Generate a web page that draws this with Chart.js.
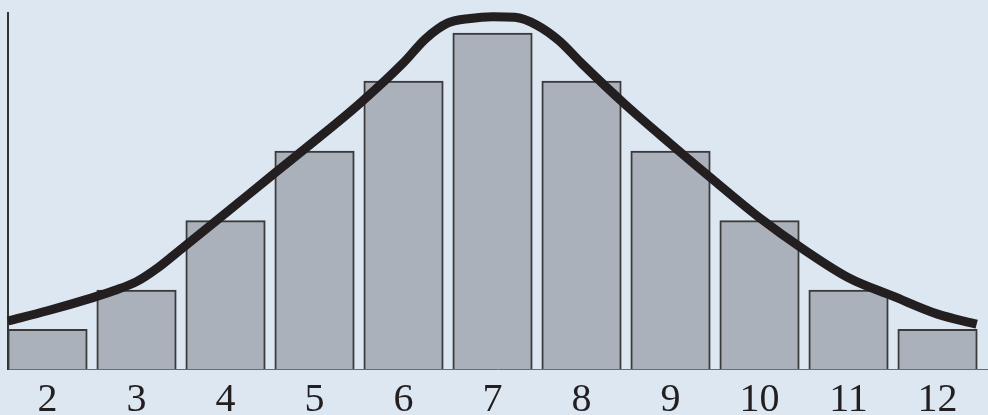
<!DOCTYPE html>
<html>
<head>
<meta charset="utf-8">
<script src="https://cdn.jsdelivr.net/npm/chart.js@4"></script>
<style>
html,body{margin:0;padding:0;background:#dde7f2;}
canvas{display:block;}
</style>
</head>
<body>
<canvas id="c" width="988" height="415"></canvas>
<script>
// Sums of two dice (categories) and bar heights
const categories = [2, 3, 4, 5, 6, 7, 8, 9, 10, 11, 12];
const tickLabels = ['2', '3', '4', '5', '6', '7', '8', '9', '10', '11', '12'];
const barValues = [0.71, 1.41, 2.65, 3.89, 5.14, 6.00, 5.14, 3.89, 2.65, 1.41, 0.71];

// Smooth bell curve, sampled along x
const curveX = [1.556, 2, 2.5, 2.75, 3, 3.25, 3.5, 4, 4.5, 5, 5.5, 6, 6.25, 6.5, 6.75, 7, 7.25, 7.5, 7.75, 8, 8.5, 9, 9.5, 10, 10.5, 11, 11.5, 12, 12.44];
const curveY = [0.86, 1.04, 1.27, 1.40, 1.56, 1.82, 2.14, 2.78, 3.43, 4.07, 4.73, 5.47, 5.90, 6.18, 6.26, 6.29, 6.28, 6.14, 5.86, 5.46, 4.71, 4.02, 3.35, 2.70, 2.13, 1.63, 1.30, 0.98, 0.80];

const xMin = 1.556, xMax = 12.567, yMax = 6.357;

new Chart(document.getElementById('c').getContext('2d'), {
  type: 'bar',
  data: {
    datasets: [
      {
        type: 'line',
        data: curveX.map((x, i) => ({ x: x, y: curveY[i] })),
        borderColor: '#231f20',
        borderWidth: 9,
        pointRadius: 0,
        cubicInterpolationMode: 'monotone',
        fill: false,
        clip: false,
        order: 0
      },
      {
        type: 'bar',
        data: categories.map((x, i) => ({ x: x, y: barValues[i] })),
        backgroundColor: '#abb1ba',
        borderColor: '#3a3a3a',
        borderWidth: 2,
        barThickness: 79.5,
        order: 1
      }
    ]
  },
  options: {
    responsive: false,
    animation: false,
    layout: { padding: { top: 13, left: 0, right: 0, bottom: 0 } },
    plugins: { legend: { display: false }, tooltip: { enabled: false } },
    scales: {
      x: {
        type: 'linear',
        offset: false,
        min: xMin,
        max: xMax,
        grid: { display: false, drawTicks: false, offset: false },
        border: { display: true, color: '#6b6b6b', width: 1 },
        afterBuildTicks: s => { s.ticks = categories.map(v => ({ value: v })); },
        ticks: {
          callback: (v, i) => tickLabels[i],
          font: { family: 'Liberation Serif', size: 40 },
          color: '#231f20',
          padding: 7,
          maxRotation: 0,
          autoSkip: false
        },
        afterFit: s => { s.height = 46; }
      },
      y: {
        min: 0,
        max: yMax,
        grid: { display: false, drawTicks: false },
        border: { display: true, color: '#333333', width: 2 },
        ticks: { display: false },
        afterFit: s => { s.width = 8; }
      }
    }
  }
});
</script>
</body>
</html>
